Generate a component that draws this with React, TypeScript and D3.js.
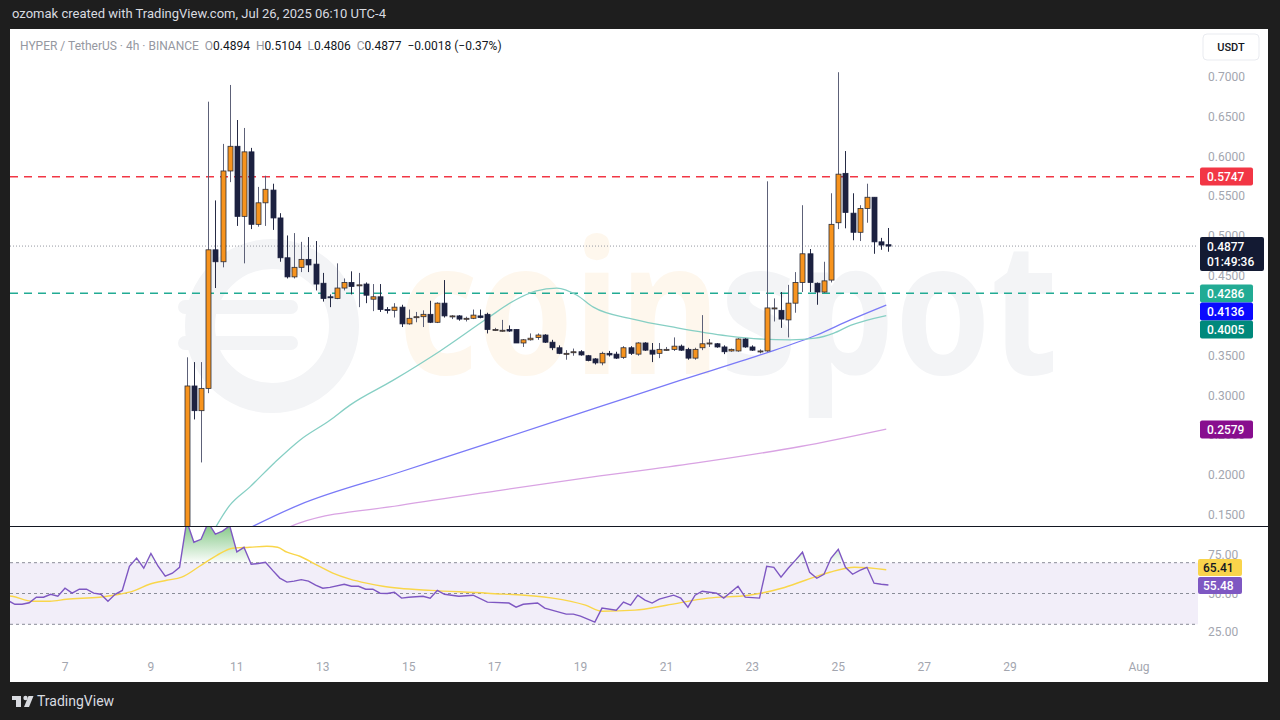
import React from "react";
import * as d3 from "d3";

// ---------- data ----------
const startTime = Date.UTC(2025, 6, 9, 20); // first visible 4h candle
const H4 = 4 * 3600 * 1000;

const opens = [0.120,0.312,0.281,0.309,0.483,0.468,0.582,0.613,0.525,0.606,0.515,0.542,0.558,0.523,0.473,0.449,0.461,0.471,0.465,0.441,0.424,0.422,0.435,0.442,0.438,0.440,0.421,0.424,0.408,0.407,0.411,0.390,0.398,0.399,0.402,0.392,0.416,0.400,0.400,0.396,0.397,0.400,0.402,0.383,0.382,0.383,0.383,0.366,0.370,0.373,0.376,0.367,0.360,0.353,0.355,0.355,0.350,0.346,0.341,0.353,0.352,0.348,0.360,0.352,0.366,0.357,0.353,0.358,0.358,0.362,0.358,0.347,0.360,0.366,0.365,0.361,0.356,0.356,0.371,0.361,0.356,0.356,0.410,0.407,0.395,0.416,0.442,0.478,0.441,0.430,0.445,0.517,0.579,0.529,0.505,0.535,0.549,0.493,0.4894];
const highs = [0.348,0.342,0.342,0.669,0.545,0.616,0.690,0.646,0.636,0.611,0.562,0.576,0.566,0.529,0.501,0.504,0.493,0.499,0.494,0.454,0.427,0.466,0.447,0.456,0.454,0.442,0.440,0.440,0.411,0.416,0.414,0.408,0.405,0.407,0.419,0.417,0.445,0.401,0.401,0.399,0.408,0.408,0.404,0.385,0.395,0.388,0.383,0.371,0.378,0.378,0.377,0.370,0.363,0.357,0.359,0.357,0.351,0.347,0.355,0.356,0.355,0.362,0.362,0.367,0.367,0.366,0.366,0.361,0.373,0.364,0.360,0.360,0.401,0.371,0.366,0.363,0.359,0.372,0.372,0.363,0.358,0.569,0.422,0.430,0.439,0.455,0.539,0.484,0.442,0.468,0.554,0.706,0.607,0.554,0.539,0.566,0.549,0.498,0.5104];
const lows = [0.115,0.270,0.216,0.303,0.435,0.461,0.568,0.513,0.466,0.509,0.512,0.513,0.508,0.468,0.447,0.447,0.455,0.455,0.432,0.418,0.411,0.421,0.432,0.427,0.411,0.416,0.406,0.405,0.403,0.398,0.386,0.389,0.392,0.386,0.391,0.391,0.398,0.396,0.394,0.393,0.396,0.397,0.378,0.381,0.380,0.380,0.366,0.361,0.369,0.370,0.366,0.357,0.352,0.345,0.350,0.350,0.343,0.339,0.338,0.349,0.346,0.346,0.351,0.350,0.356,0.342,0.347,0.356,0.356,0.356,0.345,0.345,0.357,0.361,0.360,0.352,0.355,0.355,0.360,0.356,0.353,0.355,0.393,0.385,0.373,0.404,0.430,0.430,0.414,0.429,0.442,0.509,0.510,0.495,0.494,0.517,0.478,0.483,0.4806];
const closes = [0.312,0.281,0.309,0.483,0.468,0.582,0.613,0.525,0.606,0.515,0.542,0.559,0.523,0.473,0.449,0.461,0.471,0.464,0.440,0.422,0.423,0.435,0.442,0.437,0.439,0.426,0.424,0.408,0.407,0.411,0.390,0.397,0.399,0.402,0.392,0.416,0.400,0.400,0.396,0.397,0.401,0.398,0.383,0.383,0.382,0.381,0.366,0.370,0.372,0.376,0.367,0.360,0.353,0.353,0.355,0.351,0.344,0.341,0.353,0.351,0.347,0.360,0.353,0.366,0.357,0.352,0.358,0.358,0.362,0.357,0.347,0.358,0.365,0.366,0.361,0.355,0.358,0.371,0.361,0.357,0.356,0.410,0.410,0.396,0.416,0.442,0.478,0.442,0.430,0.444,0.515,0.578,0.530,0.505,0.535,0.549,0.493,0.489,0.4877];

// moving averages: [candle index, price]
const tealMa: [number, number][] = [[3.0,0.118],[6.0,0.162],[8.8,0.185],[12.3,0.216],[15.8,0.244],[20.0,0.269],[22.8,0.288],[28.8,0.319],[35.4,0.356],[42.0,0.397],[45.9,0.420],[48.7,0.431],[51.7,0.435],[54.5,0.426],[56.8,0.411],[62.3,0.396],[68.5,0.385],[75.5,0.375],[80.1,0.371],[84.3,0.370],[87.8,0.372],[90.3,0.378],[92.7,0.388],[97.7,0.4005]];
const blueMa: [number, number][] = [[5.3,0.118],[15.8,0.163],[29.8,0.204],[43.8,0.245],[57.7,0.286],[68.9,0.319],[80.1,0.351],[88.0,0.376],[92.7,0.395],[97.7,0.4136]];
const purpleMa: [number, number][] = [[13.0,0.130],[15.8,0.140],[29.8,0.162],[43.8,0.181],[57.7,0.199],[71.7,0.216],[85.7,0.236],[97.7,0.2579]];

// RSI and its moving average: [candle index, value]
const rsiPoints: [number, number][] = [[-25,45.5],[-24,43],[-23,43],[-22,44],[-21,47.6],[-20,47.6],[-19,49.5],[-18,48.3],[-17,53.4],[-16,50.2],[-15,52.8],[-14,52.8],[-13,50.2],[-12,49.5],[-11,45],[-10,49.5],[-9,52],[-8,67.7],[-7,73],[-6,66.4],[-5,76],[-4,67.7],[-3,61.2],[-2,63.2],[-1,67],[0,97],[1,83.3],[2,85.2],[3,96],[4,88.5],[5,90.5],[6,94],[7,77],[8,80],[9,69],[10,69.5],[11,70.3],[12,65],[13,60],[14,57.4],[15,58],[16,59],[17,58],[18,55.4],[19,53.4],[20,54],[22,56],[23,54.7],[24,54.7],[25,52.8],[26,52.8],[27,50.2],[28,50],[29,50.8],[30,47],[31,47.6],[33,48.2],[34,47],[35,52],[36,49.5],[38,48.2],[40,48.9],[42,44.4],[45,43.8],[46,41.1],[47,43],[49,43.8],[50,40.5],[53,36.6],[54,36.6],[55,35.3],[57,31.4],[58,40.5],[60,39.2],[61,44.4],[62,42.4],[63,48.9],[64,45.7],[65,43.8],[66,46.3],[68,48.9],[69,47],[70,41.1],[71,48.9],[72,51.5],[74,50.2],[75,47],[77,54.7],[78,47.6],[80,47],[81,67.7],[82,67],[83,60.6],[84,66.4],[85,71.5],[86,76.8],[87,63.8],[88,59.9],[89,62.5],[90,73],[91,78.7],[92,67],[93,62.5],[94,65],[95,67],[96,56.7],[97,56],[98,55.48]];
const rsiMaPoints: [number, number][] = [[-25,48.6],[-24.4,48.2],[-21.5,45],[-19.1,45],[-16.8,46.3],[-12.2,47.6],[-9.4,49.5],[-7.5,51.5],[-5.2,56],[-2.8,58.6],[-0.7,60.6],[1.8,67.7],[4.2,74.8],[6.4,79.4],[8.8,80],[11.2,80.7],[12.7,80],[14,76.8],[15.8,74.2],[18.2,68.4],[20.4,63.2],[22.8,59.3],[25.1,56.7],[27.4,54.7],[29.7,53.4],[34.1,52],[42,50.2],[51.1,47],[55.7,42.4],[58,38.5],[62.6,39.2],[67,42.4],[72.8,47],[78.5,48.9],[83.1,53.4],[86.4,58.6],[89.8,63.8],[93.3,67],[97.7,65.41]];

// 0.4000 is fully covered by the marker labels in the reference
const priceTicks = [0.15,0.2,0.25,0.3,0.35,0.45,0.5,0.55,0.6,0.65,0.7];
const rsiTicks = [25, 50, 75];
const dayTicks = [7,9,11,13,15,17,19,21,23,25,27,29];
const dayLabels = ["7","9","11","13","15","17","19","21","23","25","27","29","Aug"];

const levels = [
  { v: 0.5747, color: "#f23645" },
  { v: 0.4286, color: "#22ab94" },
];
const axisMarkers = [
  { text: "0.5747", bg: "#f23645", cy: 176.5 },
  { text: "0.4286", bg: "#22ab94", cy: 293.5 },
  { text: "0.4136", bg: "#0a0aff", cy: 311.5 },
  { text: "0.4005", bg: "#00897b", cy: 329.5 },
  { text: "0.2579", bg: "#880e8e", cy: 429.5 },
];
const lastPrice = 0.4877;

const FONT = "Roboto, 'Noto Sans', sans-serif";

export default function App() {
  const x = d3
    .scaleUtc()
    .domain([new Date(Date.UTC(2025, 6, 7)), new Date(Date.UTC(2025, 7, 1))])
    .range([65, 1139]);
  const tx = (t: number) => x(new Date(startTime + t * H4));
  const y = d3.scaleLinear().domain([0.15, 0.7]).range([515, 77]);
  const ry = d3.scaleLinear().domain([30, 70]).range([624.3, 562.7]);

  const tickDates = [...dayTicks.map((d) => new Date(Date.UTC(2025, 6, d))), new Date(Date.UTC(2025, 7, 1))];

  const maLine = d3
    .line<[number, number]>()
    .x((d) => tx(d[0]))
    .y((d) => y(d[1]))
    .curve(d3.curveMonotoneX);
  const rsiLine = d3
    .line<[number, number]>()
    .x((d) => tx(d[0]))
    .y((d) => ry(d[1]));
  const rsiMaLine = d3
    .line<[number, number]>()
    .x((d) => tx(d[0]))
    .y((d) => ry(d[1]))
    .curve(d3.curveMonotoneX);
  const obArea = d3
    .area<[number, number]>()
    .x((d) => tx(d[0]))
    .y0(ry(70))
    .y1((d) => ry(d[1]));

  const bw = 5;
  const plotL = 10, plotR = 1198, paneTop = 30, paneBot = 526, rsiTop = 527, rsiBot = 650;
  const wm = "#f3f4f6";

  return (
    <div style={{ position: "fixed", left: 0, top: 0, width: 1280, height: 720 }}>
      <svg width={1280} height={720} style={{ display: "block" }} fontFamily={FONT}>
        <defs>
          <clipPath id="pricePane">
            <rect x={plotL} y={paneTop} width={plotR - plotL} height={paneBot - paneTop} />
          </clipPath>
          <clipPath id="rsiPane">
            <rect x={plotL} y={rsiTop} width={plotR - plotL} height={rsiBot - rsiTop} />
          </clipPath>
          <clipPath id="obClip">
            <rect x={plotL} y={rsiTop} width={plotR - plotL} height={ry(70) - rsiTop} />
          </clipPath>
          <linearGradient id="obGrad" gradientUnits="userSpaceOnUse" x1="0" y1={rsiTop} x2="0" y2={ry(70)}>
            <stop offset="0" stopColor="#4caf50" stopOpacity={0.65} />
            <stop offset="1" stopColor="#4caf50" stopOpacity={0.02} />
          </linearGradient>
        </defs>

        {/* frame */}
        <rect x={0} y={0} width={1280} height={720} fill="#1e1e1e" />
        <rect x={10} y={29} width={1258} height={653} fill="#ffffff" />
        <text x={12} y={18} fontSize={13} fill="#d9dbe0" textLength={374} lengthAdjust="spacingAndGlyphs">
          ozomak created with TradingView.com, Jul 26, 2025 06:10 UTC-4
        </text>

        {/* watermark */}
        <g>
          <circle cx={272} cy={326} r={72} fill="none" stroke={wm} strokeWidth={30} />
          <rect x={178} y={300} width={120} height={14} rx={7} fill={wm} />
          <rect x={178} y={336} width={120} height={14} rx={7} fill={wm} />
          <text x={398} y={374} fontSize={185} fontWeight={700} fontFamily="'Noto Sans', sans-serif" textLength={660} lengthAdjust="spacingAndGlyphs">
            <tspan fill="#fef7ed">coin</tspan>
            <tspan fill={wm}>spot</tspan>
          </text>
        </g>

        {/* legend */}
        <text x={20} y={50} fontSize={12}>
          <tspan fill="#9598a1">HYPER / TetherUS · 4h · BINANCE</tspan>
          <tspan fill="#9598a1" dx={6}>O</tspan>
          <tspan fill="#131722">0.4894</tspan>
          <tspan fill="#9598a1" dx={6}>H</tspan>
          <tspan fill="#131722">0.5104</tspan>
          <tspan fill="#9598a1" dx={6}>L</tspan>
          <tspan fill="#131722">0.4806</tspan>
          <tspan fill="#9598a1" dx={6}>C</tspan>
          <tspan fill="#131722">0.4877</tspan>
          <tspan fill="#131722" dx={6}>−0.0018 (−0.37%)</tspan>
        </text>

        {/* price pane */}
        <g clipPath="url(#pricePane)">
          {levels.map((l) => (
            <line key={l.v} x1={plotL} x2={plotR} y1={y(l.v)} y2={y(l.v)} stroke={l.color} strokeWidth={1.5} strokeDasharray="8 6" />
          ))}
          <line x1={plotL} x2={plotR} y1={y(lastPrice)} y2={y(lastPrice)} stroke="#9598a1" strokeWidth={1} strokeDasharray="1 2" />
          <path d={maLine(purpleMa) || ""} fill="none" stroke="#d9a3e3" strokeWidth={1.3} />
          <path d={maLine(blueMa) || ""} fill="none" stroke="#7a7af7" strokeWidth={1.3} />
          <path d={maLine(tealMa) || ""} fill="none" stroke="#86cfc4" strokeWidth={1.3} />
          {opens.map((o, i) => {
            const c = closes[i];
            const up = c >= o;
            const xc = Math.round(tx(i)) + 0.5;
            const top = y(Math.max(o, c));
            const h = Math.max(1, Math.abs(y(o) - y(c)));
            return (
              <g key={i}>
                <line x1={xc} x2={xc} y1={y(highs[i])} y2={y(lows[i])} stroke={up ? "#5d6178" : "#262b45"} strokeWidth={1} />
                <rect
                  x={xc - bw / 2}
                  y={top}
                  width={bw}
                  height={h}
                  fill={up ? "#f7931d" : "#1c2140"}
                  stroke={up ? "#2a2d3a" : "#1c2140"}
                  strokeWidth={0.8}
                />
              </g>
            );
          })}
        </g>

        {/* pane separator */}
        <line x1={10} x2={1268} y1={526.5} y2={526.5} stroke="#131722" strokeWidth={1} />

        {/* RSI pane */}
        <g clipPath="url(#rsiPane)">
          <rect x={plotL} y={ry(70)} width={plotR - plotL} height={ry(30) - ry(70)} fill="#7e57c2" fillOpacity={0.1} />
          {[70, 50, 30].map((v) => (
            <line key={v} x1={plotL} x2={plotR} y1={ry(v)} y2={ry(v)} stroke="#8a8d98" strokeWidth={1} strokeDasharray="3 3" />
          ))}
          <path d={obArea(rsiPoints) || ""} fill="url(#obGrad)" clipPath="url(#obClip)" />
          <path d={rsiMaLine(rsiMaPoints) || ""} fill="none" stroke="#f9d64a" strokeWidth={1.4} />
          <path d={rsiLine(rsiPoints) || ""} fill="none" stroke="#7e57c2" strokeWidth={1.4} />
        </g>

        {/* price axis */}
        <rect x={1203} y={34} width={56} height={26} rx={4} fill="#ffffff" stroke="#e9ebf0" />
        <text x={1231} y={51} fontSize={11} fill="#131722" textAnchor="middle" fontWeight={500}>USDT</text>
        {priceTicks.map((p) => (
          <text key={p} x={1208} y={y(p) + 4} fontSize={12} fill="#a3a6af">
            {p.toFixed(4)}
          </text>
        ))}
        {axisMarkers.map((m) => (
          <g key={m.text}>
            <rect x={1200} y={m.cy - 9} width={53} height={18} rx={2} fill={m.bg} />
            <text x={1207} y={m.cy + 4.5} fontSize={12} fill="#ffffff" fontWeight={500}>{m.text}</text>
          </g>
        ))}
        <rect x={1200} y={237} width={64} height={34} rx={2} fill="#131a33" />
        <text x={1207} y={250.5} fontSize={12} fill="#ffffff" fontWeight={500}>0.4877</text>
        <text x={1207} y={266} fontSize={12} fill="#ffffff" fontWeight={500}>01:49:36</text>

        {/* RSI axis */}
        {rsiTicks.map((v) => (
          <text key={v} x={1208} y={ry(v) + 4} fontSize={12} fill="#a3a6af">
            {v.toFixed(2)}
          </text>
        ))}
        <rect x={1198} y={559} width={44} height={17} rx={2} fill="#f9d44b" />
        <text x={1203} y={572} fontSize={12} fill="#131722" fontWeight={500}>65.41</text>
        <rect x={1198} y={577} width={44} height={17} rx={2} fill="#7e57c2" />
        <text x={1203} y={590} fontSize={12} fill="#ffffff" fontWeight={500}>55.48</text>

        {/* time axis */}
        {tickDates.map((d, i) => (
          <text key={i} x={x(d)} y={671} fontSize={12} fill="#a3a6af" textAnchor="middle">
            {dayLabels[i]}
          </text>
        ))}

        {/* footer */}
        <g fill="#d9dbe0">
          <rect x={12} y={696} width={9} height={4} />
          <rect x={16} y={696} width={5} height={11} />
          <circle cx={25.5} cy={698} r={2.2} />
          <path d="M28.5 696 L33.5 696 L29 707 L24 707 Z" />
        </g>
        <text x={37} y={706} fontSize={14} fill="#d9dbe0">TradingView</text>
      </svg>
    </div>
  );
}
